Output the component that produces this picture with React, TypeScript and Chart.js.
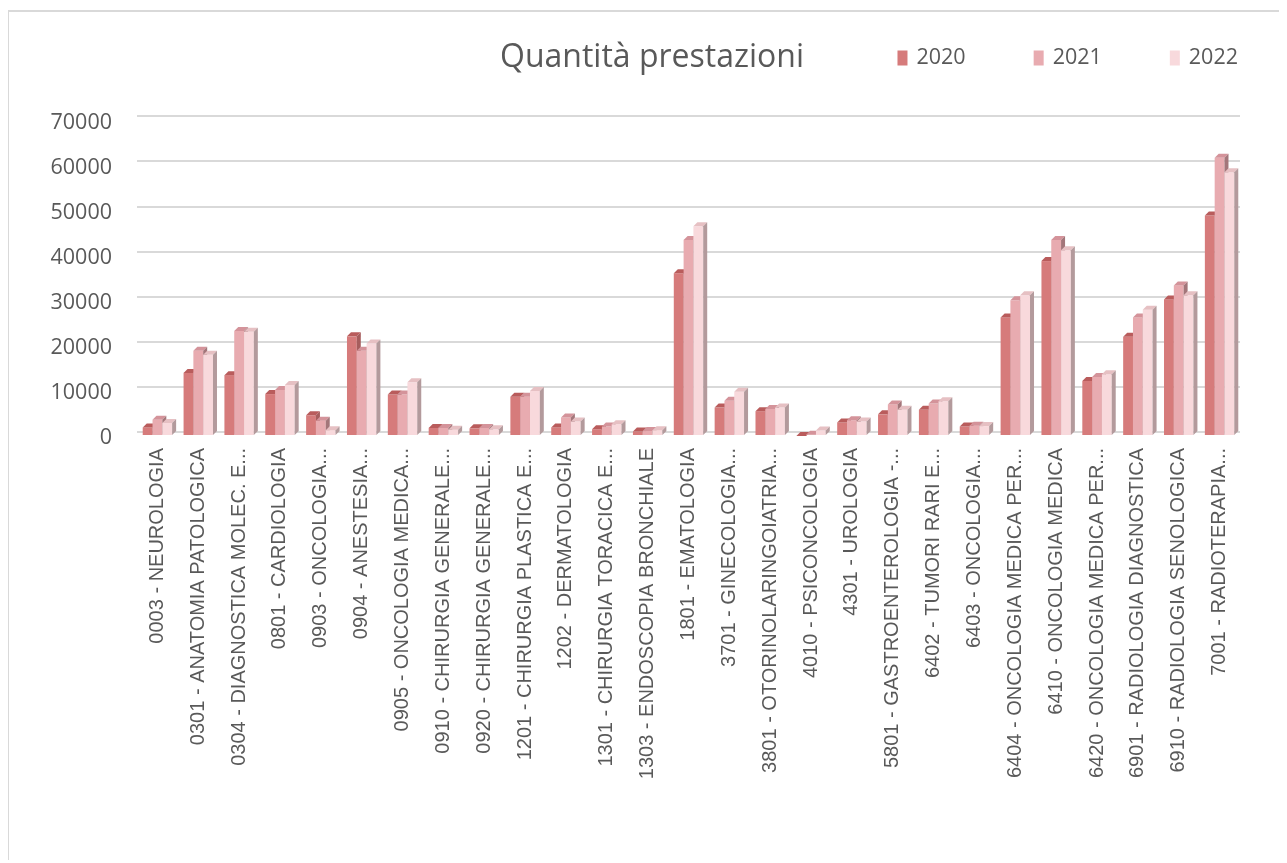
import React, { useEffect, useRef } from "react";
import { Chart, registerables } from "chart.js";

Chart.register(...registerables);

const categories: string[] = [
  "0003 - NEUROLOGIA",
  "0301 - ANATOMIA PATOLOGICA",
  "0304 - DIAGNOSTICA MOLEC. E...",
  "0801 - CARDIOLOGIA",
  "0903 - ONCOLOGIA...",
  "0904 - ANESTESIA...",
  "0905 - ONCOLOGIA MEDICA...",
  "0910 - CHIRURGIA GENERALE...",
  "0920 - CHIRURGIA GENERALE...",
  "1201 - CHIRURGIA PLASTICA E...",
  "1202 - DERMATOLOGIA",
  "1301 - CHIRURGIA TORACICA E...",
  "1303 - ENDOSCOPIA BRONCHIALE",
  "1801 - EMATOLOGIA",
  "3701 - GINECOLOGIA...",
  "3801 - OTORINOLARINGOIATRIA...",
  "4010 - PSICONCOLOGIA",
  "4301 - UROLOGIA",
  "5801 - GASTROENTEROLOGIA -...",
  "6402 - TUMORI RARI E...",
  "6403 - ONCOLOGIA...",
  "6404 - ONCOLOGIA MEDICA PER...",
  "6410 - ONCOLOGIA MEDICA",
  "6420 - ONCOLOGIA MEDICA PER...",
  "6901 - RADIOLOGIA DIAGNOSTICA",
  "6910 - RADIOLOGIA SENOLOGICA",
  "7001 - RADIOTERAPIA...",
];

const seriesNames: string[] = ["2020", "2021", "2022"];

const values2020: number[] = [1900, 14000, 13500, 9300, 4600, 22100, 9200, 1800, 1700, 8700, 1900, 1500, 1000, 36100, 6300, 5500, 0, 3000, 4800, 5800, 2100, 26300, 38800, 12200, 22000, 30300, 48900];
const values2021: number[] = [3600, 18900, 23300, 10200, 3400, 18900, 9200, 1800, 1800, 8700, 4100, 2100, 1100, 43500, 7800, 6000, 300, 3500, 7000, 7200, 2300, 30100, 43500, 13100, 26300, 33400, 61700];
const values2022: number[] = [2900, 18000, 23100, 11300, 1300, 20500, 11900, 1400, 1500, 10000, 3200, 2600, 1300, 46500, 9800, 6300, 1200, 3200, 5800, 7700, 2200, 31200, 41200, 13700, 28000, 31200, 58500];

const yTicks: number[] = [0, 10000, 20000, 30000, 40000, 50000, 60000, 70000];

const frontColors = ["#d67b7b", "#e8abb0", "#f8d9dc"];
const topColors = ["#b95c5c", "#d4939a", "#e6c0c3"];
const sideColors = ["#a65d5d", "#a3767a", "#b39a9c"];
const TEXT = "#595959";

const DEPTH = 4;

const bars3d = {
  id: "bars3d",
  beforeDatasetsDraw(chart: any) {
    const ctx = chart.ctx;
    const n = chart.data.labels.length;
    const metas = chart.data.datasets.map((_: any, i: number) => chart.getDatasetMeta(i));
    ctx.save();
    for (let j = 0; j < n; j++) {
      metas.forEach((meta: any, i: number) => {
        const el = meta.data[j];
        if (!el) return;
        const { x, y, base, width } = el.getProps(["x", "y", "base", "width"], true);
        const l = x - width / 2;
        const r = x + width / 2;
        const d = DEPTH;
        ctx.fillStyle = frontColors[i];
        ctx.fillRect(l, y + d, width, base - y);
        ctx.fillStyle = topColors[i];
        ctx.beginPath();
        ctx.moveTo(l, y + d);
        ctx.lineTo(l + d, y);
        ctx.lineTo(r + d, y);
        ctx.lineTo(r, y + d);
        ctx.closePath();
        ctx.fill();
        ctx.fillStyle = sideColors[i];
        ctx.beginPath();
        ctx.moveTo(r, y + d);
        ctx.lineTo(r + d, y);
        ctx.lineTo(r + d, base);
        ctx.lineTo(r, base + d);
        ctx.closePath();
        ctx.fill();
      });
    }
    ctx.restore();
    return false;
  },
};

const customLegend = {
  id: "customLegend",
  afterDraw(chart: any) {
    const ctx = chart.ctx;
    const area = chart.chartArea;
    const cy = 46;
    const boxW = 10;
    const boxH = 15;
    const gapBox = 9;
    const gapItem = 68;
    ctx.save();
    ctx.font = "21.5px 'Open Sans'";
    ctx.textBaseline = "middle";
    ctx.textAlign = "left";
    let cursor = area.right - 2;
    const ds = chart.data.datasets;
    for (let i = ds.length - 1; i >= 0; i--) {
      const label = ds[i].label;
      const tw = ctx.measureText(label).width;
      const tx = cursor - tw;
      ctx.fillStyle = TEXT;
      ctx.fillText(label, tx, cy);
      const bx = tx - gapBox - boxW;
      ctx.fillStyle = ds[i].backgroundColor;
      ctx.fillRect(bx, cy - boxH / 2, boxW, boxH);
      cursor = bx - gapItem;
    }
    ctx.restore();
  },
};

export default function App() {
  const ref = useRef<HTMLCanvasElement | null>(null);
  useEffect(() => {
    if (!ref.current) return;
    const chart = new Chart(ref.current, {
      type: "bar",
      data: {
        labels: categories,
        datasets: [values2020, values2021, values2022].map((v, i) => ({
          label: seriesNames[i],
          data: v,
          backgroundColor: frontColors[i],
          categoryPercentage: 0.72,
          barPercentage: 1.0,
        })),
      },
      options: {
        responsive: false,
        animation: false,
        layout: { padding: { left: 36, right: 27, top: 0, bottom: 0 } },
        plugins: {
          legend: { display: false },
          tooltip: { enabled: false },
          title: {
            display: true,
            text: "Quantità prestazioni",
            color: TEXT,
            font: { family: "'Open Sans'", size: 32, weight: "normal" },
            padding: { top: 27, bottom: 39 },
          },
        },
        scales: {
          x: {
            grid: { display: false, drawTicks: false },
            border: { display: false },
            ticks: {
              color: TEXT,
              font: { family: "'Liberation Sans'", size: 20 },
              minRotation: 90,
              maxRotation: 90,
              autoSkip: false,
              padding: 16,
            },
            afterFit: (scale: any) => {
              scale.height = 428;
            },
          },
          y: {
            min: 0,
            max: 70000,
            afterBuildTicks: (scale: any) => {
              scale.ticks = yTicks.map((v) => ({ value: v }));
            },
            grid: { color: "#d9d9d9", lineWidth: 2, drawTicks: false },
            border: { display: false },
            ticks: {
              color: TEXT,
              font: { family: "'Open Sans'", size: 21.5 },
              padding: 25,
              labelOffset: 6,
              callback: (v: any) => String(v),
            },
            afterFit: (scale: any) => {
              scale.width = 92;
            },
          },
          yRightSpace: {
            type: "linear",
            position: "right",
            display: true,
            grid: { display: false, drawTicks: false },
            border: { display: false },
            ticks: { display: false },
            afterFit: (scale: any) => {
              scale.width = 19;
            },
          },
        },
      },
      plugins: [bars3d, customLegend],
    });
    return () => chart.destroy();
  }, []);

  return (
    <div
      style={{
        marginTop: 2,
        marginLeft: -1,
        width: 1279,
        height: 850,
        borderTop: "2px solid #d9d9d9",
        borderLeft: "2px solid #d9d9d9",
        boxSizing: "border-box",
        background: "#fff",
      }}
    >
      <canvas ref={ref} width={1277} height={848} style={{ display: "block" }} />
    </div>
  );
}
